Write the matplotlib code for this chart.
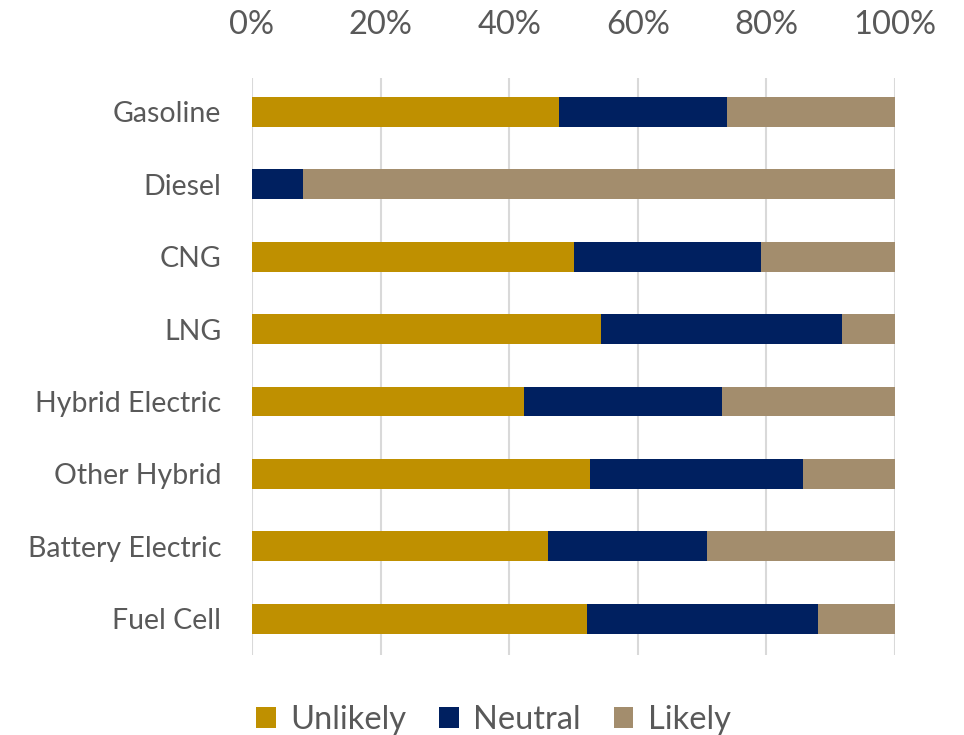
import numpy as np
import matplotlib.pyplot as plt

categories = ['Gasoline', 'Diesel', 'CNG', 'LNG', 'Hybrid Electric',
              'Other Hybrid', 'Battery Electric', 'Fuel Cell']
unlikely = [47.8, 0.0, 50.1, 54.3, 42.3, 52.6, 46.0, 52.1]
neutral = [26.0, 7.9, 29.1, 37.5, 30.8, 33.1, 24.8, 35.9]
likely = [26.2, 92.1, 20.8, 8.2, 26.9, 14.3, 29.2, 12.0]
series_names = ['Unlikely', 'Neutral', 'Likely']
colors = ['#BF9000', '#002060', '#A38D6D']
tick_vals = [0, 20, 40, 60, 80, 100]

plt.rcParams['font.family'] = ['Lato', 'DejaVu Sans']
text_color = '#595959'

fig = plt.figure(figsize=(9.64, 7.35), dpi=100)
ax = fig.add_axes([0.2614, 0.109, 0.667, 0.785])

y_pos = np.arange(len(categories))
left = np.zeros(len(categories))
for vals, name, c in zip([unlikely, neutral, likely], series_names, colors):
    vals = np.array(vals)
    ax.barh(y_pos, vals, left=left, height=0.41, color=c, label=name, zorder=3)
    left += vals

ax.set_xlim(0, 100)
ax.set_ylim(len(categories) - 0.5, -0.47)
ax.set_xticks(tick_vals)
ax.set_xticklabels([f'{v}%' for v in tick_vals])
ax.xaxis.tick_top()
ax.set_yticks(y_pos)
ax.set_yticklabels(categories)
ax.tick_params(axis='x', length=0, pad=27, labelsize=23.5, colors=text_color)
ax.tick_params(axis='y', length=0, pad=22, labelsize=20.5, colors=text_color)
ax.grid(axis='x', color='#D9D9D9', linewidth=1.5, zorder=0)
for s in ax.spines.values():
    s.set_visible(False)

leg = fig.legend(loc='lower center', bbox_to_anchor=(0.512, -0.04), ncol=3,
                 frameon=False, fontsize=23.5, handlelength=0.6, handleheight=0.6,
                 handletextpad=0.45, columnspacing=1.0)
for t in leg.get_texts():
    t.set_color(text_color)

fig.savefig('out.png', dpi=100)
